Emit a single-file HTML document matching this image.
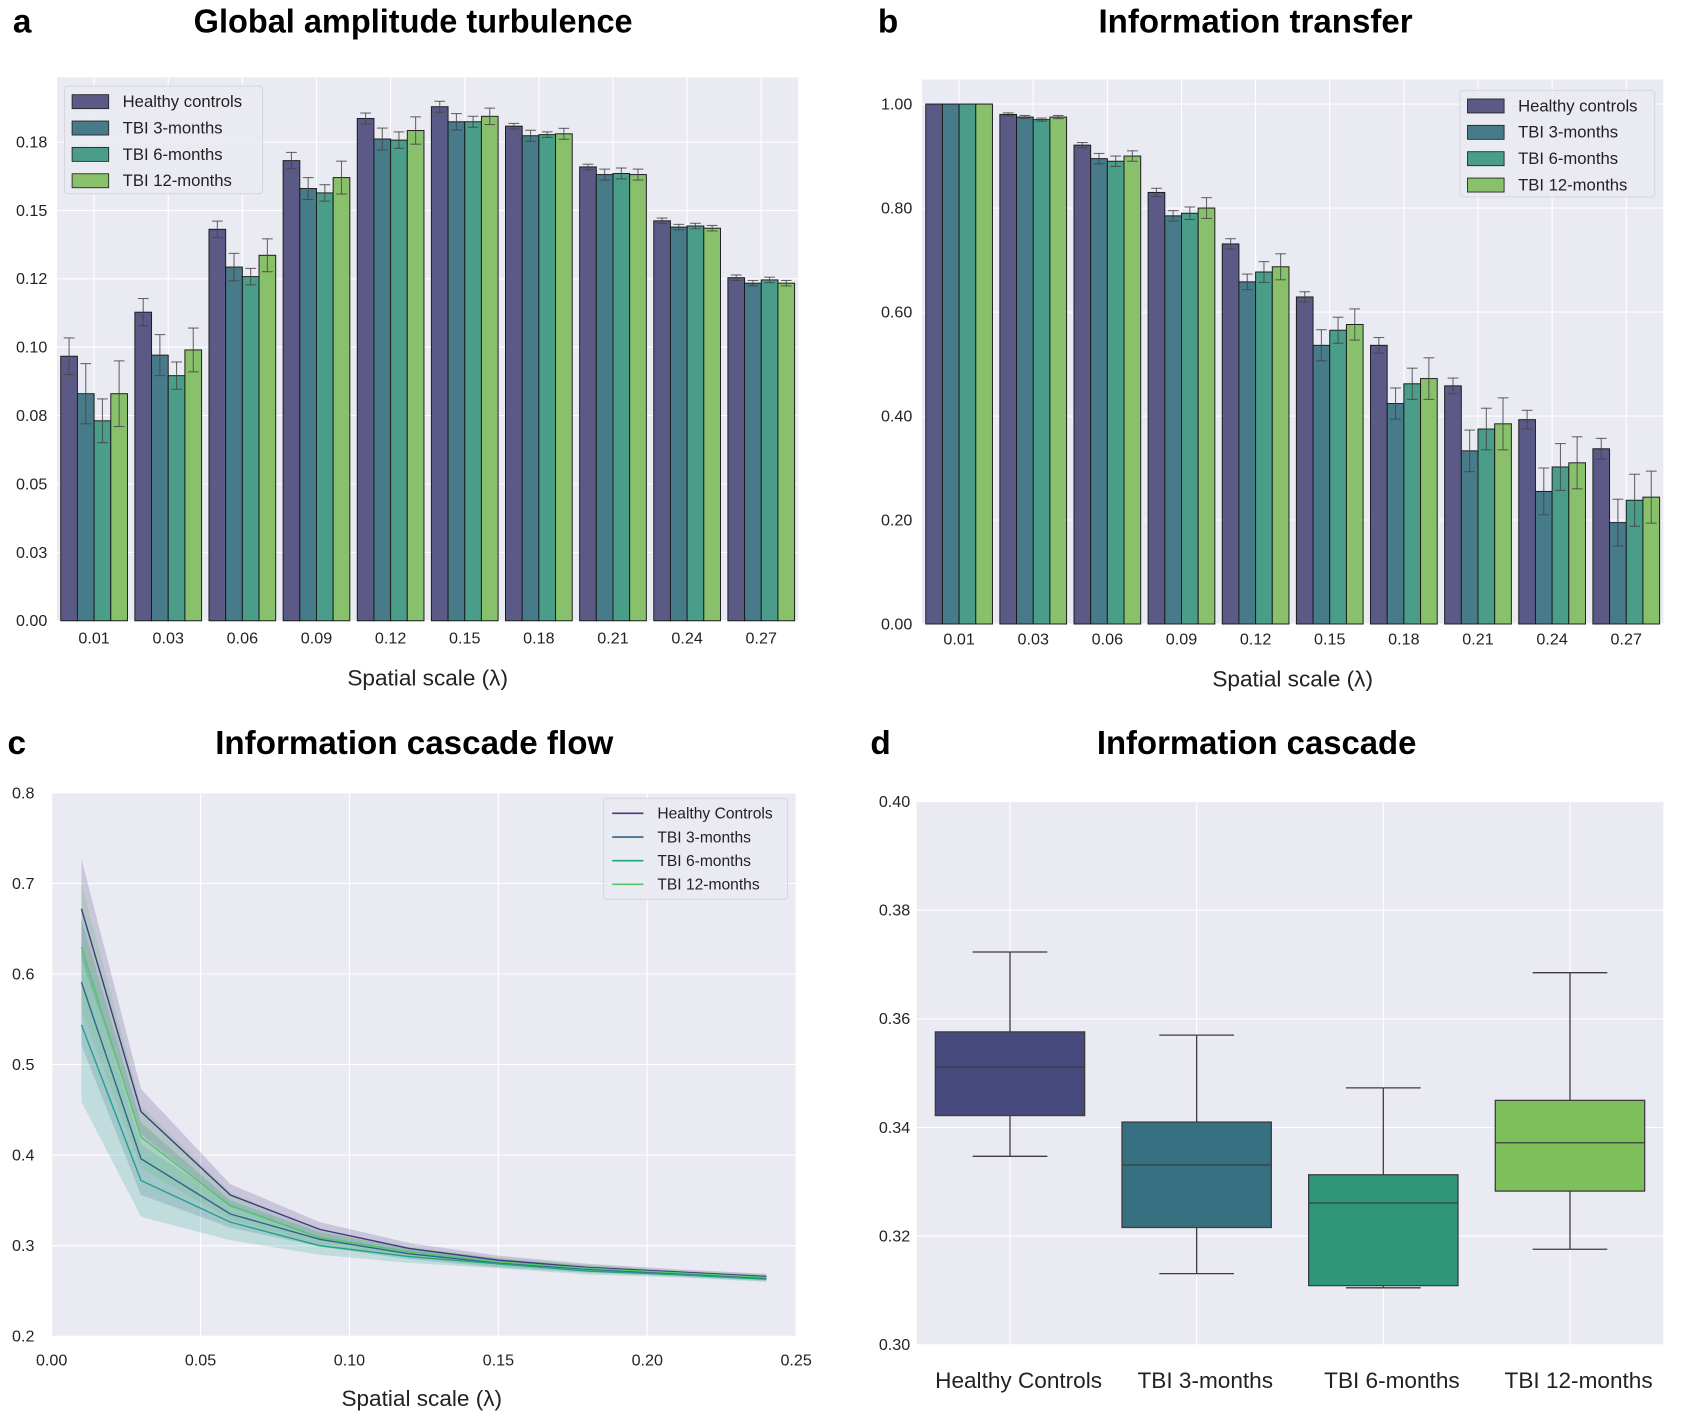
<!DOCTYPE html>
<html><head><meta charset="utf-8">
<style>
html,body{margin:0;padding:0;background:#fff;}
svg{display:block;font-family:"Liberation Sans",Arial,sans-serif;}
.tk{font-size:15px;fill:#222;}
.ttl{font-size:31px;font-weight:bold;fill:#000;font-family:"Liberation Sans Narrow","Liberation Sans",sans-serif;}
.xl{font-size:21px;fill:#222;}
.lg{font-size:15.5px;fill:#222;}
</style></head>
<body>
<svg id="fig" width="1687" height="1418" viewBox="0 0 1568 1318" xmlns="http://www.w3.org/2000/svg">
<g id="pa"></g>
<g id="pb"></g>
<g id="pc"></g>
<g id="pd"></g>
</svg>
<script>
// ---------- data ----------
const groups = ["Healthy controls","TBI 3-months","TBI 6-months","TBI 12-months"];
const scales = ["0.01","0.03","0.06","0.09","0.12","0.15","0.18","0.21","0.24","0.27"];
const turbHC  = [0.0967,0.1128,0.1431,0.1682,0.1836,0.1879,0.1808,0.1659,0.1462,0.1254];
const turb3m  = [0.0830,0.0971,0.1293,0.1580,0.1761,0.1824,0.1773,0.1631,0.1439,0.1234];
const turb6m  = [0.0731,0.0896,0.1258,0.1564,0.1757,0.1824,0.1777,0.1635,0.1443,0.1246];
const turb12m = [0.0830,0.0990,0.1336,0.1620,0.1792,0.1844,0.1780,0.1631,0.1435,0.1234];
const turbErrHC  = [0.0067,0.005,0.003,0.003,0.002,0.002,0.001,0.001,0.001,0.001];
const turbErr3m  = [0.011,0.0075,0.005,0.004,0.004,0.003,0.002,0.002,0.001,0.001];
const turbErr6m  = [0.008,0.005,0.003,0.003,0.003,0.002,0.001,0.002,0.001,0.001];
const turbErr12m = [0.012,0.008,0.006,0.006,0.005,0.003,0.002,0.002,0.001,0.001];
const turbTicks = [0,0.025,0.05,0.075,0.1,0.125,0.15,0.175];
const turbTickLabels = ["0.00","0.03","0.05","0.08","0.10","0.12","0.15","0.18"];

const infHC  = [1.0,0.980,0.921,0.830,0.731,0.629,0.536,0.458,0.393,0.337];
const inf3m  = [1.0,0.975,0.895,0.785,0.658,0.536,0.424,0.333,0.255,0.195];
const inf6m  = [1.0,0.970,0.890,0.790,0.677,0.565,0.462,0.375,0.302,0.238];
const inf12m = [1.0,0.975,0.900,0.800,0.687,0.576,0.472,0.385,0.310,0.244];
const infErrHC  = [0,0.003,0.005,0.008,0.010,0.010,0.015,0.015,0.018,0.020];
const infErr3m  = [0,0.003,0.010,0.010,0.015,0.030,0.030,0.040,0.045,0.045];
const infErr6m  = [0,0.003,0.010,0.012,0.020,0.025,0.030,0.040,0.045,0.050];
const infErr12m = [0,0.003,0.010,0.020,0.025,0.030,0.040,0.050,0.050,0.050];
const infTicks = [0,0.2,0.4,0.6,0.8,1.0];
const infTickLabels = ["0.00","0.20","0.40","0.60","0.80","1.00"];

const flowX = [0.01,0.03,0.06,0.09,0.12,0.15,0.18,0.21,0.24];
const flowHC  = [0.672,0.448,0.356,0.318,0.297,0.284,0.276,0.271,0.266];
const flow3m  = [0.591,0.396,0.335,0.307,0.291,0.281,0.274,0.269,0.264];
const flow6m  = [0.544,0.372,0.326,0.300,0.288,0.280,0.272,0.268,0.263];
const flow12m = [0.630,0.420,0.344,0.309,0.293,0.282,0.275,0.270,0.265];
const bandHC  = [0.055,0.025,0.012,0.008,0.006,0.005,0.004,0.003,0.003];
const band3m  = [0.070,0.040,0.015,0.008,0.006,0.005,0.004,0.003,0.003];
const band6m  = [0.085,0.040,0.020,0.010,0.007,0.005,0.004,0.003,0.003];
const band12m = [0.070,0.035,0.015,0.008,0.006,0.005,0.004,0.003,0.003];
const flowXTicks = [0,0.05,0.10,0.15,0.20,0.25];
const flowXTickLabels = ["0.00","0.05","0.10","0.15","0.20","0.25"];
const flowYTicks = [0.2,0.3,0.4,0.5,0.6,0.7,0.8];
const flowYTickLabels = ["0.2","0.3","0.4","0.5","0.6","0.7","0.8"];
const flowLegend = ["Healthy Controls","TBI 3-months","TBI 6-months","TBI 12-months"];

const boxCats = ["Healthy Controls","TBI 3-months","TBI 6-months","TBI 12-months"];
const boxLow = [0.3347,0.3131,0.3105,0.3176];
const boxQ1  = [0.3422,0.3216,0.3109,0.3283];
const boxMed = [0.3511,0.3331,0.3261,0.3372];
const boxQ3  = [0.3576,0.3410,0.3313,0.3450];
const boxHigh= [0.3723,0.3570,0.3473,0.3685];
const boxTicks = [0.30,0.32,0.34,0.36,0.38,0.40];
const boxTickLabels = ["0.30","0.32","0.34","0.36","0.38","0.40"];

// ---------- helpers ----------
const NS="http://www.w3.org/2000/svg";
function mk(parent,tag,attrs,text){const e=document.createElementNS(NS,tag);for(const k in attrs)e.setAttribute(k,attrs[k]);if(text!==undefined)e.textContent=text;parent.appendChild(e);return e;}
const barCols=["#5b5a87","#487b8a","#4a9e89","#88c06c"];
const lineCols=["#453781","#33638d","#20a386","#55c667"];
const boxCols=["#474a7c","#377181","#2f9677","#7dbf5a"];
const BG="#eaeaf2";

function barPanel(g,box,ymax,ticks,tickLabels,series,errs,letter,title,titleLen,titleX,legBox,legStep,xlY,tickY){
  const [x0,y0,x1,y1]=box;
  const ys=v=>y1-(v/ymax)*(y1-y0);
  const unit=(x1-x0)/scales.length;
  const xc=i=>x0+unit*(i+0.5);
  let r=mk(g,"rect",{x:x0,y:y0,width:x1-x0,height:y1-y0,fill:BG});
  
  
  ticks.forEach((t,i)=>{
    mk(g,"line",{x1:x0,x2:x1,y1:ys(t),y2:ys(t),stroke:"#fff","stroke-width":1});
    const tl=mk(g,"text",{x:x0-9,y:ys(t)+5,"text-anchor":"end",class:"tk"},tickLabels[i]);
    
    
  });
  scales.forEach((s,i)=>{
    mk(g,"line",{x1:xc(i),x2:xc(i),y1:y0,y2:y1,stroke:"#fff","stroke-width":1});
    const tl=mk(g,"text",{x:xc(i),y:tickY,"text-anchor":"middle",class:"tk"},s);
    
    
  });
  const bw=unit*0.225;
  series.forEach((arr,k)=>{
    arr.forEach((v,i)=>{
      const bx=xc(i)-2*bw+k*bw;
      const b=mk(g,"rect",{x:bx,y:ys(v),width:bw,height:y1-ys(v),fill:barCols[k],stroke:"#1a1a1a","stroke-width":0.9});
      
      
      const e=errs[k][i];
      if(e>0){
        const cx=bx+bw/2;
        mk(g,"line",{x1:cx,x2:cx,y1:ys(v+e),y2:ys(v-e),stroke:"#444","stroke-width":1,"stroke-opacity":0.8});
        mk(g,"line",{x1:cx-5,x2:cx+5,y1:ys(v+e),y2:ys(v+e),stroke:"#444","stroke-width":1,"stroke-opacity":0.8});
        mk(g,"line",{x1:cx-5,x2:cx+5,y1:ys(v-e),y2:ys(v-e),stroke:"#444","stroke-width":1,"stroke-opacity":0.8});
      }
    });
  });
  const lg=mk(g,"g",{});
  
  
  mk(lg,"rect",{x:legBox[0],y:legBox[1],width:legBox[2],height:legBox[3],fill:BG,stroke:"#d6d6e0",rx:3,"fill-opacity":0.85});
  groups.forEach((nm,k)=>{
    const yy=legBox[1]+14+k*legStep;
    const en=mk(lg,"g",{});
    
    
    mk(en,"rect",{x:legBox[0]+7,y:yy-6,width:34,height:13,fill:barCols[k],stroke:"#222","stroke-width":0.8});
    mk(en,"text",{x:legBox[0]+54,y:yy+5.5,class:"lg"},nm);
  });
  const lt=mk(g,"text",{x:box[0]-41,y:30,class:"ttl"},letter);
  
  
  const tt=mk(g,"text",{x:titleX,y:30,class:"ttl","text-anchor":"middle",textLength:titleLen,lengthAdjust:"spacingAndGlyphs"},title);
  
  
  const xl=mk(g,"text",{x:(x0+x1)/2,y:xlY,class:"xl","text-anchor":"middle"},"Spatial scale (λ)");
  
  
}

barPanel(document.getElementById("pa"),[53,72,742,577],0.1986,turbTicks,turbTickLabels,
  [turbHC,turb3m,turb6m,turb12m],[turbErrHC,turbErr3m,turbErr6m,turbErr12m],
  "a","Global amplitude turbulence",408,384,[60,80,184,100],24.5,637,598);
barPanel(document.getElementById("pb"),[857,74,1546,580],1.047,infTicks,infTickLabels,
  [infHC,inf3m,inf6m,inf12m],[infErrHC,infErr3m,infErr6m,infErr12m],
  "b","Information transfer",292,1167,[1357,84,181,99],24.5,638,599);

// ---------- panel c ----------
(function(){
  const g=document.getElementById("pc");
  const x0=48,y0=737,x1=740,y1=1242;
  const xs=v=>x0+(v/0.25)*(x1-x0);
  const ys=v=>y1-((v-0.2)/0.6)*(y1-y0);
  let r=mk(g,"rect",{x:x0,y:y0,width:x1-x0,height:y1-y0,fill:BG});
  
  
  flowXTicks.forEach((t,i)=>{
    mk(g,"line",{x1:xs(t),x2:xs(t),y1:y0,y2:y1,stroke:"#fff","stroke-width":1});
    const tl=mk(g,"text",{x:xs(t),y:1269,"text-anchor":"middle",class:"tk"},flowXTickLabels[i]);
    
    
  });
  flowYTicks.forEach((t,i)=>{
    mk(g,"line",{x1:x0,x2:x1,y1:ys(t),y2:ys(t),stroke:"#fff","stroke-width":1});
    const tl=mk(g,"text",{x:x0-16,y:ys(t)+5,"text-anchor":"end",class:"tk"},flowYTickLabels[i]);
    
    
  });
  const series=[flowHC,flow3m,flow6m,flow12m];
  const bands=[bandHC,band3m,band6m,band12m];
  series.forEach((arr,k)=>{
    let up=arr.map((v,i)=>xs(flowX[i])+","+ys(v+bands[k][i]));
    let dn=arr.map((v,i)=>xs(flowX[i])+","+ys(v-bands[k][i])).reverse();
    const b=mk(g,"polygon",{points:up.concat(dn).join(" "),fill:lineCols[k],"fill-opacity":0.2});
    
    
  });
  series.forEach((arr,k)=>{
    const l=mk(g,"polyline",{points:arr.map((v,i)=>xs(flowX[i])+","+ys(v)).join(" "),fill:"none",stroke:lineCols[k],"stroke-width":1.3});
    
    
  });
  const lg=mk(g,"g",{});
  
  
  mk(lg,"rect",{x:561,y:742,width:171,height:94,fill:BG,stroke:"#d6d6e0",rx:3,"fill-opacity":0.85});
  flowLegend.forEach((nm,k)=>{
    const yy=756+k*22;
    const en=mk(lg,"g",{});
    
    
    mk(en,"line",{x1:569,x2:598,y1:yy,y2:yy,stroke:lineCols[k],"stroke-width":1.5});
    mk(en,"text",{x:611,y:yy+5,class:"lg",style:"font-size:14.5px"},nm);
  });
  const lt=mk(g,"text",{x:7,y:701,class:"ttl"},"c");
  
  
  const tt=mk(g,"text",{x:385,y:701,class:"ttl","text-anchor":"middle",textLength:370,lengthAdjust:"spacingAndGlyphs"},"Information cascade flow");
  
  
  const xl=mk(g,"text",{x:392,y:1307,class:"xl","text-anchor":"middle"},"Spatial scale (λ)");
  
  
})();

// ---------- panel d ----------
(function(){
  const g=document.getElementById("pd");
  const x0=852,y0=745,x1=1546,y1=1250;
  const ys=v=>y1-((v-0.30)/0.10)*(y1-y0);
  const unit=(x1-x0)/boxCats.length;
  const xc=i=>x0+unit*(i+0.5);
  let r=mk(g,"rect",{x:x0,y:y0,width:x1-x0,height:y1-y0,fill:BG});
  
  
  boxTicks.forEach((t,i)=>{
    mk(g,"line",{x1:x0,x2:x1,y1:ys(t),y2:ys(t),stroke:"#fff","stroke-width":1});
    const tl=mk(g,"text",{x:x0-6,y:ys(t)+5,"text-anchor":"end",class:"tk"},boxTickLabels[i]);
    
    
  });
  boxCats.forEach((c,i)=>{
    mk(g,"line",{x1:xc(i),x2:xc(i),y1:y0,y2:y1,stroke:"#fff","stroke-width":1});
    const tl=mk(g,"text",{x:xc(i)+8,y:1290,"text-anchor":"middle",class:"xl"},c);
    
    
    const bw=unit*0.8, bx=xc(i)-bw/2;
    const bg=mk(g,"g",{});
    
    
    mk(bg,"line",{x1:xc(i),x2:xc(i),y1:ys(boxHigh[i]),y2:ys(boxQ3[i]),stroke:"#3d3d3d","stroke-width":1.2});
    mk(bg,"line",{x1:xc(i),x2:xc(i),y1:ys(boxQ1[i]),y2:ys(boxLow[i]),stroke:"#3d3d3d","stroke-width":1.2});
    mk(bg,"line",{x1:xc(i)-bw/4,x2:xc(i)+bw/4,y1:ys(boxHigh[i]),y2:ys(boxHigh[i]),stroke:"#3d3d3d","stroke-width":1.2});
    mk(bg,"line",{x1:xc(i)-bw/4,x2:xc(i)+bw/4,y1:ys(boxLow[i]),y2:ys(boxLow[i]),stroke:"#3d3d3d","stroke-width":1.2});
    mk(bg,"rect",{x:bx,y:ys(boxQ3[i]),width:bw,height:ys(boxQ1[i])-ys(boxQ3[i]),fill:boxCols[i],stroke:"#3d3d3d","stroke-width":1.2});
    mk(bg,"line",{x1:bx,x2:bx+bw,y1:ys(boxMed[i]),y2:ys(boxMed[i]),stroke:"#3d3d3d","stroke-width":1.2});
  });
  const lt=mk(g,"text",{x:809,y:701,class:"ttl"},"d");
  
  
  const tt=mk(g,"text",{x:1168,y:701,class:"ttl","text-anchor":"middle",textLength:297,lengthAdjust:"spacingAndGlyphs"},"Information cascade");
  
  
})();
</script>
</body></html>
